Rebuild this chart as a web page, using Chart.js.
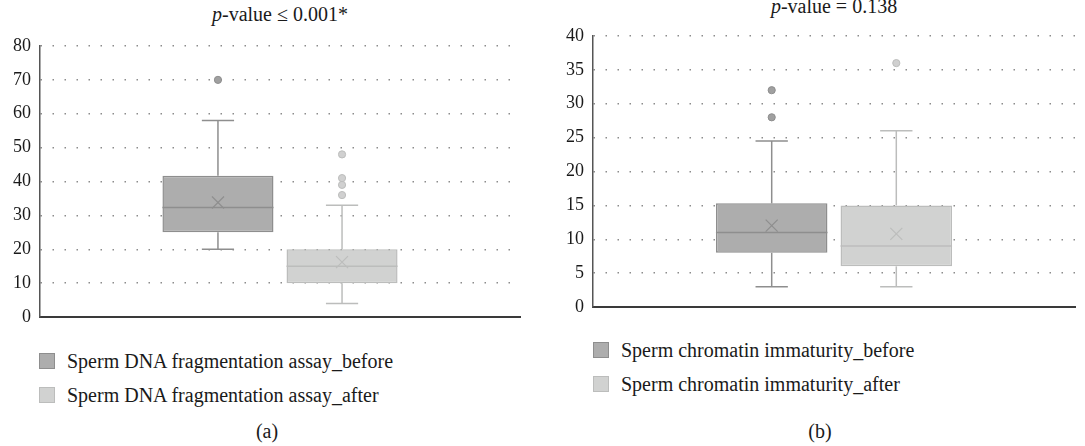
<!DOCTYPE html>
<html>
<head>
<meta charset="utf-8">
<script src="https://cdn.jsdelivr.net/npm/chart.js@4.4.1/dist/chart.umd.min.js"></script>
<style>
  html, body { margin: 0; padding: 0; background: #fff; }
  body { width: 1085px; height: 446px; position: relative; overflow: hidden;
         font-family: 'Liberation Serif', 'Times New Roman', serif; color: #1a1a1a; }
  .panel-title { position: absolute; font-size: 20px; line-height: 22px; white-space: nowrap; transform: translateX(-50%); }
  .panel-title i { font-style: italic; }
  canvas { position: absolute; }
  .legend { position: absolute; font-size: 20px; }
  .legend-item { display: flex; align-items: center; height: 34px; white-space: nowrap; }
  .legend-box { width: 14px; height: 14px; border: 1.5px solid; margin-right: 12px; }
  .caption { position: absolute; font-size: 20px; transform: translateX(-50%); }
</style>
</head>
<body>
<div class="panel-title" style="left:280px; top:3px;"><i>p</i>-value ≤ 0.001*</div>
<div class="panel-title" style="left:834px; top:-5px;"><i>p</i>-value = 0.138</div>

<canvas id="chart-dna" width="540" height="340" style="left:0; top:0;"></canvas>
<canvas id="chart-sci" width="540" height="330" style="left:545px; top:0;"></canvas>

<div class="legend" id="legend-dna" style="left:39px; top:344px;"></div>
<div class="legend" id="legend-sci" style="left:593px; top:333px;"></div>

<div class="caption" style="left:267px; top:420px;">(a)</div>
<div class="caption" style="left:820px; top:420px;">(b)</div>

<script>
// (a) Sperm DNA fragmentation assay, before / after
const dnaLabels   = ['Sperm DNA fragmentation assay_before', 'Sperm DNA fragmentation assay_after'];
const dnaQ1       = [25, 10];
const dnaQ3       = [41.7, 20];
const dnaMedian   = [32.3, 15];
const dnaMean     = [33.8, 16.2];
const dnaMin      = [20, 4];
const dnaMax      = [58, 33];
const dnaOutliers = [[70], [36, 39, 41, 48]];
const dnaTicks    = [0, 10, 20, 30, 40, 50, 60, 70, 80];

// (b) Sperm chromatin immaturity, before / after
const sciLabels   = ['Sperm chromatin immaturity_before', 'Sperm chromatin immaturity_after'];
const sciQ1       = [8, 6];
const sciQ3       = [15.3, 15];
const sciMedian   = [11, 9];
const sciMean     = [12, 10.8];
const sciMin      = [3, 3];
const sciMax      = [24.5, 26];
const sciOutliers = [[28, 32], [36]];
const sciTicks    = [0, 5, 10, 15, 20, 25, 30, 35, 40];

const COLORS = {
  beforeFill:   '#adadad',
  beforeLine:   '#8e8e8e',
  beforeDot:    '#a0a0a0',
  afterFill:    '#d1d2d1',
  afterLine:    '#bcbdbc',
  afterDot:     '#d0d0d0',
  grid:         '#8c8c8c',
  axis:         '#3a3a3a',
  text:         '#1a1a1a',
};
const FONT = "'Liberation Serif', 'Times New Roman', serif";

// Whiskers, median, mean cross and outliers, drawn on top of the floating bars
const boxDetails = {
  id: 'boxDetails',
  afterDatasetsDraw(chart, args, opts) {
    const { ctx } = chart;
    const y = v => chart.scales.y.getPixelForValue(v);
    const line = (x1, y1, x2, y2) => { ctx.beginPath(); ctx.moveTo(x1, y1); ctx.lineTo(x2, y2); ctx.stroke(); };

    chart.data.datasets.forEach((ds, i) => {
      const bar = chart.getDatasetMeta(i).data[0];
      const x = bar.x, half = bar.width / 2, cap = bar.width * 0.145;
      ctx.save();
      ctx.strokeStyle = ds.borderColor;
      ctx.lineWidth = 1.5;

      line(x, y(opts.q3[i]), x, y(opts.max[i]));
      line(x - cap, y(opts.max[i]), x + cap, y(opts.max[i]));
      line(x, y(opts.q1[i]), x, y(opts.min[i]));
      line(x - cap, y(opts.min[i]), x + cap, y(opts.min[i]));

      line(x - half, y(opts.median[i]), x + half, y(opts.median[i]));

      const m = y(opts.mean[i]), r = 6;
      ctx.lineWidth = 1.2;
      line(x - r, m - r, x + r, m + r);
      line(x - r, m + r, x + r, m - r);

      ctx.fillStyle = ds.outlierColor;
      ctx.lineWidth = 1;
      opts.outliers[i].forEach(v => {
        ctx.beginPath();
        ctx.arc(x, y(v), 3.6, 0, Math.PI * 2);
        ctx.fill();
        ctx.stroke();
      });
      ctx.restore();
    });
  },
};

function makeBoxChart(canvasId, legendId, cfg) {
  const chart = new Chart(document.getElementById(canvasId), {
    type: 'bar',
    data: {
      labels: [''],
      datasets: [
        {
          label: cfg.labels[0],
          data: [[cfg.q1[0], cfg.q3[0]]],
          backgroundColor: COLORS.beforeFill,
          borderColor: COLORS.beforeLine,
          outlierColor: COLORS.beforeDot,
        },
        {
          label: cfg.labels[1],
          data: [[cfg.q1[1], cfg.q3[1]]],
          backgroundColor: COLORS.afterFill,
          borderColor: COLORS.afterLine,
          outlierColor: COLORS.afterDot,
        },
      ],
    },
    options: {
      responsive: false,
      animation: false,
      events: [],
      categoryPercentage: 0.517,
      barPercentage: 0.895,
      elements: { bar: { borderWidth: 1.5, borderSkipped: false } },
      layout: { padding: cfg.padding },
      plugins: {
        legend: { display: false },
        tooltip: { enabled: false },
        title: { display: false },
        boxDetails: {
          q1: cfg.q1, q3: cfg.q3, median: cfg.median, mean: cfg.mean,
          min: cfg.min, max: cfg.max, outliers: cfg.outliers,
        },
      },
      scales: {
        x: {
          ticks: { display: false },
          grid: { display: false },
          border: { color: COLORS.axis, width: 2 },
        },
        y: {
          min: cfg.ticks[0],
          max: cfg.ticks[cfg.ticks.length - 1],
          afterBuildTicks: scale => { scale.ticks = cfg.ticks.map(v => ({ value: v })); },
          afterFit: scale => { scale.width = cfg.axisWidth; },
          ticks: { color: COLORS.text, padding: 9, font: { family: FONT, size: 18 } },
          grid: {
            drawTicks: false,
            lineWidth: 1.5,
            color: c => (c.tick && c.tick.value === 0 ? 'rgba(0,0,0,0)' : COLORS.grid),
          },
          border: { color: '#555', width: 1.5, dash: [1.5, 10.5] },
        },
      },
    },
    plugins: [boxDetails],
  });

  document.getElementById(legendId).innerHTML = chart.data.datasets.map(ds => `
    <div class="legend-item">
      <span class="legend-box" style="background:${ds.backgroundColor}; border-color:${ds.borderColor};"></span>
      <span>${ds.label}</span>
    </div>`).join('');
  return chart;
}

makeBoxChart('chart-dna', 'legend-dna', {
  labels: dnaLabels, q1: dnaQ1, q3: dnaQ3, median: dnaMedian, mean: dnaMean,
  min: dnaMin, max: dnaMax, outliers: dnaOutliers, ticks: dnaTicks,
  axisWidth: 40, padding: { top: 46, bottom: 15, left: 0, right: 20 },
});

makeBoxChart('chart-sci', 'legend-sci', {
  labels: sciLabels, q1: sciQ1, q3: sciQ3, median: sciMedian, mean: sciMean,
  min: sciMin, max: sciMax, outliers: sciOutliers, ticks: sciTicks,
  axisWidth: 48, padding: { top: 36, bottom: 15, left: 0, right: 10 },
});
</script>
</body>
</html>
